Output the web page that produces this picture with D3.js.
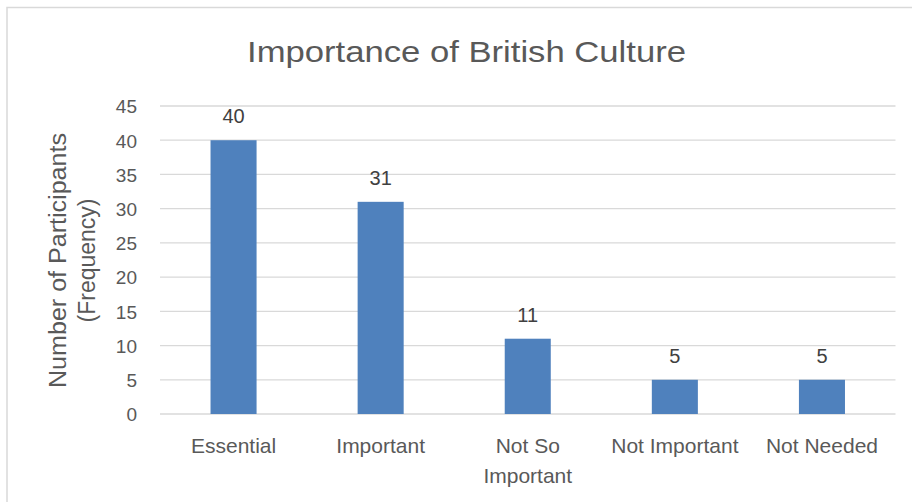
<!DOCTYPE html>
<html>
<head>
<meta charset="utf-8">
<script src="https://cdn.jsdelivr.net/npm/d3@7"></script>
<style>
  html, body { margin: 0; padding: 0; background: #fff; }
  svg { display: block; }
  text { font-family: "Liberation Sans", Arial, sans-serif; }
</style>
</head>
<body>
<svg id="chart" width="912" height="502"></svg>
<script>
// Survey responses: how important is British culture
const categories = [["Essential"], ["Important"], ["Not So", "Important"], ["Not Important"], ["Not Needed"]];
const frequencies = [40, 31, 11, 5, 5];
const yTicks = [0, 5, 10, 15, 20, 25, 30, 35, 40, 45];
const titleText = "Importance of British Culture";
const yTitleLines = ["Number of Participants", "(Frequency)"];

const svg = d3.select("#chart");
const W = 912, H = 502;
const plot = { left: 160, right: 895.5, top: 106, bottom: 414 };

// chart frame
svg.append("rect")
  .attr("x", 7).attr("y", 7.5)
  .attr("width", W + 10).attr("height", H + 10)
  .attr("fill", "#fff").attr("stroke", "#d9d9d9").attr("stroke-width", 1.5);

const labels = categories.map(c => c.join(" "));
const x = d3.scaleBand().domain(labels).range([plot.left, plot.right]).paddingInner(0.687).paddingOuter(0.3435);
const y = d3.scaleLinear().domain([0, 45]).range([plot.bottom, plot.top]);

// gridlines
svg.append("g")
  .selectAll("line")
  .data(yTicks)
  .join("line")
  .attr("x1", plot.left).attr("x2", plot.right)
  .attr("y1", d => y(d)).attr("y2", d => y(d))
  .attr("stroke", "#d9d9d9").attr("stroke-width", 1.3);

// y axis tick labels
const yAxis = d3.axisLeft(y).tickValues(yTicks).tickSize(0).tickPadding(23);
const gy = svg.append("g").attr("transform", `translate(${plot.left},0)`).call(yAxis);
gy.select(".domain").remove();
gy.selectAll("text")
  .attr("fill", "#595959")
  .style("font-size", "19px")
  .attr("dy", "0.36em");

// bars
svg.append("g")
  .selectAll("rect")
  .data(frequencies)
  .join("rect")
  .attr("x", (d, i) => x(labels[i]))
  .attr("width", x.bandwidth())
  .attr("y", d => y(d))
  .attr("height", d => y(0) - y(d))
  .attr("fill", "#4f81bd");

// value labels
svg.append("g")
  .selectAll("text")
  .data(frequencies)
  .join("text")
  .attr("x", (d, i) => x(labels[i]) + x.bandwidth() / 2)
  .attr("y", d => y(d) - 17)
  .attr("text-anchor", "middle")
  .attr("fill", "#404040")
  .style("font-size", "20px")
  .text(d => d);

// category labels (wrapped)
const xAxis = d3.axisBottom(x).tickSize(0).tickFormat(() => "");
const gx = svg.append("g").attr("transform", `translate(0,${plot.bottom})`).call(xAxis);
gx.select(".domain").remove();
gx.selectAll(".tick text").remove();
gx.selectAll(".tick").each(function (d, i) {
  const t = d3.select(this).append("text")
    .attr("text-anchor", "middle")
    .attr("fill", "#595959")
    .style("font-size", "21px")
    .attr("y", 39);
  categories[i].forEach((line, j) => {
    t.append("tspan").attr("x", 0).attr("dy", j === 0 ? 0 : 29.5).text(line);
  });
});

// y axis title
const yt = svg.append("g").attr("transform", "translate(66,260.5) rotate(-90)");
yTitleLines.forEach((line, j) => {
  const t = yt.append("text")
    .attr("x", 0).attr("y", j * 29)
    .attr("text-anchor", "middle")
    .attr("fill", "#595959")
    .style("font-size", "23px")
    .text(line);
  if (j === 0) t.attr("textLength", 255).attr("lengthAdjust", "spacingAndGlyphs");
});

// chart title
svg.append("text")
  .attr("x", 466.5).attr("y", 62)
  .attr("text-anchor", "middle")
  .attr("fill", "#595959")
  .style("font-size", "30px")
  .attr("textLength", 439)
  .attr("lengthAdjust", "spacingAndGlyphs")
  .text(titleText);
</script>
</body>
</html>
